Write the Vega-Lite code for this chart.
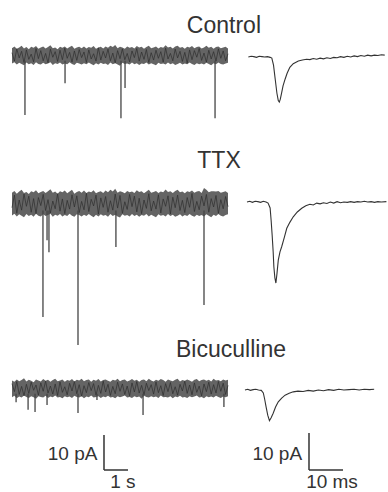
{
"$schema": "https://vega.github.io/schema/vega-lite/v6.json",
"padding": 0,
"background": "white",
"spacing": 0,
"bounds": "flush",
"columns": 2,
"config": {"view": {"stroke": null, "fill": null}, "axis": {"disable": true}, "text": {"font": "Liberation Sans"}},
"resolve": {"scale": {"x": "independent", "y": "independent"}},
"datasets": {
"noise": [
{"c":"Control","t":0.0,"hi":2.1,"lo":-2.3,"v":0.8},{"c":"Control","t":0.1,"hi":2.6,"lo":-1.9,"v":-1.6},{"c":"Control","t":0.2,"hi":1.9,"lo":-2.6,"v":1.9},{"c":"Control","t":0.3,"hi":2.3,"lo":-2.1,"v":-0.7},{"c":"Control","t":0.4,"hi":2.8,"lo":-2.4,"v":1.2},{"c":"Control","t":0.5,"hi":2.0,"lo":-2.8,"v":-2.0},{"c":"Control","t":0.6,"hi":2.4,"lo":-2.0,"v":1.6},{"c":"Control","t":0.7,"hi":1.8,"lo":-2.5,"v":-1.1},{"c":"Control","t":0.8,"hi":2.5,"lo":-2.2,"v":0.4},{"c":"Control","t":0.9,"hi":2.2,"lo":-2.7,"v":-1.8},
{"c":"Control","t":1.0,"hi":2.7,"lo":-1.9,"v":2.0},{"c":"Control","t":1.1,"hi":1.9,"lo":-2.4,"v":-0.9},{"c":"Control","t":1.2,"hi":2.3,"lo":-2.6,"v":1.4},{"c":"Control","t":1.3,"hi":2.6,"lo":-2.1,"v":-1.5},{"c":"Control","t":1.4,"hi":2.0,"lo":-2.5,"v":0.6},{"c":"Control","t":1.5,"hi":2.4,"lo":-2.3,"v":-2.1},{"c":"Control","t":1.6,"hi":2.9,"lo":-1.9,"v":1.8},{"c":"Control","t":1.7,"hi":2.1,"lo":-2.7,"v":-0.5},{"c":"Control","t":1.8,"hi":2.3,"lo":-2.2,"v":1.1},{"c":"Control","t":1.9,"hi":1.8,"lo":-2.4,"v":-1.7},
{"c":"Control","t":2.0,"hi":2.5,"lo":-2.0,"v":1.5},{"c":"Control","t":2.1,"hi":2.2,"lo":-2.6,"v":-1.2},{"c":"Control","t":2.2,"hi":2.6,"lo":-2.3,"v":2.1},{"c":"Control","t":2.3,"hi":2.0,"lo":-2.5,"v":-0.8},{"c":"Control","t":2.4,"hi":2.4,"lo":-1.9,"v":0.9},{"c":"Control","t":2.5,"hi":2.8,"lo":-2.4,"v":-1.9},{"c":"Control","t":2.6,"hi":1.9,"lo":-2.7,"v":1.3},{"c":"Control","t":2.7,"hi":2.3,"lo":-2.1,"v":-1.4},{"c":"Control","t":2.8,"hi":2.5,"lo":-2.3,"v":1.7},{"c":"Control","t":2.9,"hi":2.1,"lo":-2.6,"v":-0.6},
{"c":"Control","t":3.0,"hi":2.6,"lo":-2.2,"v":1.0},{"c":"Control","t":3.1,"hi":2.0,"lo":-2.5,"v":-2.0},{"c":"Control","t":3.2,"hi":2.4,"lo":-2.0,"v":1.6},{"c":"Control","t":3.3,"hi":2.2,"lo":-2.4,"v":-1.0},{"c":"Control","t":3.4,"hi":2.7,"lo":-2.8,"v":0.5},{"c":"Control","t":3.5,"hi":1.9,"lo":-2.2,"v":-1.6},{"c":"Control","t":3.6,"hi":2.3,"lo":-2.6,"v":2.2},{"c":"Control","t":3.7,"hi":2.5,"lo":-2.1,"v":-1.3},{"c":"Control","t":3.8,"hi":2.0,"lo":-2.4,"v":1.2},{"c":"Control","t":3.9,"hi":2.6,"lo":-2.3,"v":-0.7},
{"c":"Control","t":4.0,"hi":2.2,"lo":-2.7,"v":1.8},{"c":"Control","t":4.1,"hi":2.8,"lo":-2.0,"v":-1.5},{"c":"Control","t":4.2,"hi":2.4,"lo":-2.5,"v":0.7},{"c":"Control","t":4.3,"hi":3.0,"lo":-2.2,"v":-2.1},{"c":"Control","t":4.4,"hi":2.1,"lo":-2.6,"v":1.4},{"c":"Control","t":4.5,"hi":2.5,"lo":-2.9,"v":-0.9},{"c":"Control","t":4.6,"hi":2.3,"lo":-2.1,"v":1.9},{"c":"Control","t":4.7,"hi":1.9,"lo":-2.4,"v":-1.2},{"c":"Control","t":4.8,"hi":2.6,"lo":-2.3,"v":0.6},{"c":"Control","t":4.9,"hi":2.2,"lo":-2.6,"v":-1.8},
{"c":"Control","t":5.0,"hi":2.4,"lo":-2.0,"v":1.3},{"c":"Control","t":5.1,"hi":2.0,"lo":-2.5,"v":-0.6},{"c":"Control","t":5.2,"hi":2.7,"lo":-2.2,"v":2.0},{"c":"Control","t":5.3,"hi":2.3,"lo":-2.7,"v":-1.6},{"c":"Control","t":5.4,"hi":2.5,"lo":-2.3,"v":1.0},{"c":"Control","t":5.5,"hi":1.9,"lo":-2.4,"v":-1.1},{"c":"Control","t":5.6,"hi":2.4,"lo":-2.0,"v":1.7},{"c":"Control","t":5.7,"hi":2.8,"lo":-2.6,"v":-2.0},{"c":"Control","t":5.8,"hi":2.1,"lo":-2.2,"v":0.8},{"c":"Control","t":5.9,"hi":2.3,"lo":-2.5,"v":-1.3},
{"c":"Control","t":6.0,"hi":2.6,"lo":-2.8,"v":1.5},{"c":"Control","t":6.1,"hi":2.0,"lo":-2.1,"v":-0.8},{"c":"Control","t":6.2,"hi":2.4,"lo":-2.4,"v":1.1},{"c":"Control","t":6.3,"hi":2.2,"lo":-2.3,"v":-1.9},{"c":"Control","t":6.4,"hi":2.9,"lo":-2.6,"v":2.1},{"c":"Control","t":6.5,"hi":2.3,"lo":-2.0,"v":-1.0},{"c":"Control","t":6.6,"hi":2.5,"lo":-2.5,"v":0.6},{"c":"Control","t":6.7,"hi":2.0,"lo":-2.2,"v":-1.5},{"c":"Control","t":6.8,"hi":2.6,"lo":-2.7,"v":1.8},{"c":"Control","t":6.9,"hi":2.8,"lo":-2.4,"v":-0.7},
{"c":"Control","t":7.0,"hi":2.2,"lo":-2.1,"v":1.2},{"c":"Control","t":7.1,"hi":2.4,"lo":-2.6,"v":-1.7},{"c":"Control","t":7.2,"hi":1.9,"lo":-2.3,"v":0.9},{"c":"Control","t":7.3,"hi":2.5,"lo":-2.5,"v":-2.2},{"c":"Control","t":7.4,"hi":2.3,"lo":-2.0,"v":1.6},{"c":"Control","t":7.5,"hi":2.7,"lo":-2.4,"v":-1.2},{"c":"Control","t":7.6,"hi":2.1,"lo":-2.7,"v":1.4},{"c":"Control","t":7.7,"hi":2.4,"lo":-2.2,"v":-0.5},{"c":"Control","t":7.8,"hi":2.6,"lo":-2.5,"v":2.0},{"c":"Control","t":7.9,"hi":2.0,"lo":-2.3,"v":-1.4},
{"c":"Control","t":8.0,"hi":2.3,"lo":-2.6,"v":0.7},{"c":"Control","t":8.1,"hi":2.8,"lo":-2.1,"v":-1.9},{"c":"Control","t":8.2,"hi":2.2,"lo":-2.4,"v":1.5},{"c":"Control","t":8.3,"hi":2.5,"lo":-2.8,"v":-1.0},{"c":"Control","t":8.4,"hi":1.9,"lo":-2.2,"v":1.1},{"c":"Control","t":8.5,"hi":2.4,"lo":-2.5,"v":-1.6},{"c":"Control","t":8.6,"hi":2.6,"lo":-2.0,"v":1.9},{"c":"Control","t":8.7,"hi":2.1,"lo":-2.4,"v":-0.8},{"c":"Control","t":8.8,"hi":2.3,"lo":-2.6,"v":1.3},{"c":"Control","t":8.9,"hi":2.5,"lo":-2.3,"v":-1.5},{"c":"Control","t":9.0,"hi":2.0,"lo":-2.1,"v":0.5},

{"c":"TTX","t":0.0,"hi":3.1,"lo":-3.4,"v":-1.2},{"c":"TTX","t":0.1,"hi":3.6,"lo":-2.9,"v":2.4},{"c":"TTX","t":0.2,"hi":2.8,"lo":-3.7,"v":-2.8},{"c":"TTX","t":0.3,"hi":3.4,"lo":-3.1,"v":1.0},{"c":"TTX","t":0.4,"hi":3.9,"lo":-3.5,"v":-1.9},{"c":"TTX","t":0.5,"hi":3.0,"lo":-3.9,"v":2.7},{"c":"TTX","t":0.6,"hi":3.3,"lo":-3.0,"v":-0.8},{"c":"TTX","t":0.7,"hi":2.7,"lo":-3.6,"v":2.1},{"c":"TTX","t":0.8,"hi":3.5,"lo":-3.2,"v":-2.5},{"c":"TTX","t":0.9,"hi":3.2,"lo":-3.8,"v":1.4},
{"c":"TTX","t":1.0,"hi":3.8,"lo":-2.9,"v":-2.9},{"c":"TTX","t":1.1,"hi":2.9,"lo":-3.5,"v":1.7},{"c":"TTX","t":1.2,"hi":3.3,"lo":-3.7,"v":-0.6},{"c":"TTX","t":1.3,"hi":3.6,"lo":-3.1,"v":2.6},{"c":"TTX","t":1.4,"hi":3.0,"lo":-3.6,"v":-2.0},{"c":"TTX","t":1.5,"hi":3.5,"lo":-3.3,"v":1.1},{"c":"TTX","t":1.6,"hi":4.1,"lo":-2.9,"v":-2.7},{"c":"TTX","t":1.7,"hi":3.1,"lo":-3.8,"v":0.7},{"c":"TTX","t":1.8,"hi":3.4,"lo":-3.2,"v":-1.5},{"c":"TTX","t":1.9,"hi":2.8,"lo":-3.5,"v":2.8},
{"c":"TTX","t":2.0,"hi":3.5,"lo":-3.0,"v":-2.2},{"c":"TTX","t":2.1,"hi":3.2,"lo":-3.7,"v":1.3},{"c":"TTX","t":2.2,"hi":3.7,"lo":-3.3,"v":-2.9},{"c":"TTX","t":2.3,"hi":2.9,"lo":-3.6,"v":0.9},{"c":"TTX","t":2.4,"hi":3.4,"lo":-2.9,"v":-1.6},{"c":"TTX","t":2.5,"hi":3.9,"lo":-3.5,"v":2.5},{"c":"TTX","t":2.6,"hi":2.8,"lo":-3.8,"v":-1.0},{"c":"TTX","t":2.7,"hi":3.3,"lo":-3.1,"v":2.2},{"c":"TTX","t":2.8,"hi":3.6,"lo":-3.3,"v":-2.6},{"c":"TTX","t":2.9,"hi":3.1,"lo":-3.7,"v":0.6},
{"c":"TTX","t":3.0,"hi":3.7,"lo":-3.2,"v":-1.8},{"c":"TTX","t":3.1,"hi":3.0,"lo":-3.6,"v":2.9},{"c":"TTX","t":3.2,"hi":3.4,"lo":-3.0,"v":-2.3},{"c":"TTX","t":3.3,"hi":3.2,"lo":-3.5,"v":1.2},{"c":"TTX","t":3.4,"hi":3.8,"lo":-3.9,"v":-0.7},{"c":"TTX","t":3.5,"hi":2.9,"lo":-3.2,"v":2.4},{"c":"TTX","t":3.6,"hi":3.3,"lo":-3.7,"v":-3.0},{"c":"TTX","t":3.7,"hi":3.5,"lo":-3.1,"v":1.6},{"c":"TTX","t":3.8,"hi":3.0,"lo":-3.5,"v":-1.1},{"c":"TTX","t":3.9,"hi":3.7,"lo":-3.3,"v":2.0},
{"c":"TTX","t":4.0,"hi":3.2,"lo":-3.8,"v":-2.5},{"c":"TTX","t":4.1,"hi":3.9,"lo":-3.0,"v":0.8},{"c":"TTX","t":4.2,"hi":3.4,"lo":-3.6,"v":-1.9},{"c":"TTX","t":4.3,"hi":4.2,"lo":-3.2,"v":2.7},{"c":"TTX","t":4.4,"hi":3.1,"lo":-3.7,"v":-1.3},{"c":"TTX","t":4.5,"hi":3.5,"lo":-4.0,"v":2.3},{"c":"TTX","t":4.6,"hi":3.3,"lo":-3.1,"v":-2.8},{"c":"TTX","t":4.7,"hi":2.9,"lo":-3.5,"v":0.5},{"c":"TTX","t":4.8,"hi":3.6,"lo":-3.3,"v":-1.7},{"c":"TTX","t":4.9,"hi":3.2,"lo":-3.7,"v":2.6},
{"c":"TTX","t":5.0,"hi":3.4,"lo":-3.0,"v":-0.9},{"c":"TTX","t":5.1,"hi":3.0,"lo":-3.6,"v":2.1},{"c":"TTX","t":5.2,"hi":3.8,"lo":-3.2,"v":-2.4},{"c":"TTX","t":5.3,"hi":3.3,"lo":-3.8,"v":1.5},{"c":"TTX","t":5.4,"hi":3.5,"lo":-3.3,"v":-2.9},{"c":"TTX","t":5.5,"hi":2.9,"lo":-3.5,"v":1.0},{"c":"TTX","t":5.6,"hi":3.4,"lo":-3.0,"v":-1.4},{"c":"TTX","t":5.7,"hi":3.9,"lo":-3.7,"v":2.8},{"c":"TTX","t":5.8,"hi":3.1,"lo":-3.2,"v":-2.1},{"c":"TTX","t":5.9,"hi":3.3,"lo":-3.6,"v":0.7},
{"c":"TTX","t":6.0,"hi":3.6,"lo":-3.9,"v":-1.6},{"c":"TTX","t":6.1,"hi":3.0,"lo":-3.1,"v":2.5},{"c":"TTX","t":6.2,"hi":3.4,"lo":-3.5,"v":-2.7},{"c":"TTX","t":6.3,"hi":3.2,"lo":-3.3,"v":1.3},{"c":"TTX","t":6.4,"hi":4.0,"lo":-3.7,"v":-0.8},{"c":"TTX","t":6.5,"hi":3.3,"lo":-3.0,"v":2.2},{"c":"TTX","t":6.6,"hi":3.5,"lo":-3.6,"v":-3.0},{"c":"TTX","t":6.7,"hi":3.0,"lo":-3.2,"v":1.8},{"c":"TTX","t":6.8,"hi":3.6,"lo":-3.8,"v":-1.2},{"c":"TTX","t":6.9,"hi":3.9,"lo":-3.5,"v":2.4},
{"c":"TTX","t":7.0,"hi":3.2,"lo":-3.1,"v":-2.0},{"c":"TTX","t":7.1,"hi":3.4,"lo":-3.7,"v":0.9},{"c":"TTX","t":7.2,"hi":2.9,"lo":-3.3,"v":-2.6},{"c":"TTX","t":7.3,"hi":3.5,"lo":-3.6,"v":1.7},{"c":"TTX","t":7.4,"hi":3.3,"lo":-3.0,"v":-1.1},{"c":"TTX","t":7.5,"hi":3.7,"lo":-3.5,"v":2.9},{"c":"TTX","t":7.6,"hi":3.1,"lo":-3.8,"v":-2.3},{"c":"TTX","t":7.7,"hi":3.4,"lo":-3.2,"v":0.6},{"c":"TTX","t":7.8,"hi":3.6,"lo":-3.6,"v":-1.8},{"c":"TTX","t":7.9,"hi":3.0,"lo":-3.3,"v":2.1},
{"c":"TTX","t":8.0,"hi":4.4,"lo":-3.7,"v":-0.7},{"c":"TTX","t":8.1,"hi":3.9,"lo":-3.1,"v":2.6},{"c":"TTX","t":8.2,"hi":3.2,"lo":-3.5,"v":-2.5},{"c":"TTX","t":8.3,"hi":3.5,"lo":-3.9,"v":1.4},{"c":"TTX","t":8.4,"hi":3.5,"lo":-3.2,"v":-1.0},{"c":"TTX","t":8.5,"hi":3.4,"lo":-3.6,"v":2.3},{"c":"TTX","t":8.6,"hi":3.6,"lo":-3.0,"v":-2.8},{"c":"TTX","t":8.7,"hi":3.1,"lo":-3.5,"v":1.1},{"c":"TTX","t":8.8,"hi":3.3,"lo":-3.7,"v":-1.5},{"c":"TTX","t":8.9,"hi":3.5,"lo":-3.3,"v":2.0},{"c":"TTX","t":9.0,"hi":3.0,"lo":-3.1,"v":-0.9},

{"c":"Bic","t":0.0,"hi":2.3,"lo":-2.5,"v":1.4},{"c":"Bic","t":0.1,"hi":1.9,"lo":-2.1,"v":-0.9},{"c":"Bic","t":0.2,"hi":2.6,"lo":-2.8,"v":2.0},{"c":"Bic","t":0.3,"hi":2.1,"lo":-2.3,"v":-1.7},{"c":"Bic","t":0.4,"hi":2.4,"lo":-2.6,"v":0.6},{"c":"Bic","t":0.5,"hi":2.9,"lo":-2.0,"v":-2.1},{"c":"Bic","t":0.6,"hi":2.0,"lo":-2.4,"v":1.2},{"c":"Bic","t":0.7,"hi":2.5,"lo":-2.7,"v":-1.4},{"c":"Bic","t":0.8,"hi":2.2,"lo":-2.2,"v":1.8},{"c":"Bic","t":0.9,"hi":1.8,"lo":-2.5,"v":-0.5},
{"c":"Bic","t":1.0,"hi":2.6,"lo":-2.9,"v":1.0},{"c":"Bic","t":1.1,"hi":2.3,"lo":-2.2,"v":-1.9},{"c":"Bic","t":1.2,"hi":2.0,"lo":-2.4,"v":1.6},{"c":"Bic","t":1.3,"hi":2.7,"lo":-2.6,"v":-0.8},{"c":"Bic","t":1.4,"hi":2.2,"lo":-2.1,"v":2.1},{"c":"Bic","t":1.5,"hi":2.5,"lo":-2.7,"v":-1.3},{"c":"Bic","t":1.6,"hi":1.9,"lo":-2.3,"v":0.7},{"c":"Bic","t":1.7,"hi":2.4,"lo":-2.5,"v":-1.6},{"c":"Bic","t":1.8,"hi":2.8,"lo":-2.0,"v":1.3},{"c":"Bic","t":1.9,"hi":2.1,"lo":-2.6,"v":-2.0},
{"c":"Bic","t":2.0,"hi":2.3,"lo":-2.4,"v":1.9},{"c":"Bic","t":2.1,"hi":2.6,"lo":-2.8,"v":-1.1},{"c":"Bic","t":2.2,"hi":1.9,"lo":-2.2,"v":0.5},{"c":"Bic","t":2.3,"hi":2.4,"lo":-2.5,"v":-1.8},{"c":"Bic","t":2.4,"hi":2.2,"lo":-2.3,"v":1.5},{"c":"Bic","t":2.5,"hi":2.7,"lo":-2.7,"v":-0.7},{"c":"Bic","t":2.6,"hi":2.0,"lo":-2.1,"v":2.0},{"c":"Bic","t":2.7,"hi":2.5,"lo":-2.4,"v":-1.5},{"c":"Bic","t":2.8,"hi":2.3,"lo":-2.6,"v":1.1},{"c":"Bic","t":2.9,"hi":2.8,"lo":-2.2,"v":-2.2},
{"c":"Bic","t":3.0,"hi":2.1,"lo":-2.8,"v":0.8},{"c":"Bic","t":3.1,"hi":2.4,"lo":-2.3,"v":-1.2},{"c":"Bic","t":3.2,"hi":2.6,"lo":-2.5,"v":1.7},{"c":"Bic","t":3.3,"hi":1.9,"lo":-2.0,"v":-0.6},{"c":"Bic","t":3.4,"hi":2.5,"lo":-2.6,"v":1.4},{"c":"Bic","t":3.5,"hi":2.2,"lo":-2.4,"v":-1.9},{"c":"Bic","t":3.6,"hi":2.7,"lo":-2.2,"v":0.9},{"c":"Bic","t":3.7,"hi":2.0,"lo":-2.7,"v":-1.4},{"c":"Bic","t":3.8,"hi":2.4,"lo":-2.3,"v":2.1},{"c":"Bic","t":3.9,"hi":2.6,"lo":-2.5,"v":-1.0},
{"c":"Bic","t":4.0,"hi":2.2,"lo":-2.1,"v":1.2},{"c":"Bic","t":4.1,"hi":1.9,"lo":-2.6,"v":-2.0},{"c":"Bic","t":4.2,"hi":2.5,"lo":-2.4,"v":0.6},{"c":"Bic","t":4.3,"hi":2.3,"lo":-2.8,"v":-1.5},{"c":"Bic","t":4.4,"hi":2.8,"lo":-2.2,"v":1.8},{"c":"Bic","t":4.5,"hi":2.1,"lo":-2.5,"v":-0.8},{"c":"Bic","t":4.6,"hi":2.4,"lo":-2.3,"v":1.3},{"c":"Bic","t":4.7,"hi":2.6,"lo":-2.0,"v":-1.7},{"c":"Bic","t":4.8,"hi":2.0,"lo":-2.6,"v":0.7},{"c":"Bic","t":4.9,"hi":2.3,"lo":-2.4,"v":-2.1},
{"c":"Bic","t":5.0,"hi":2.7,"lo":-2.7,"v":1.6},{"c":"Bic","t":5.1,"hi":2.2,"lo":-2.2,"v":-1.0},{"c":"Bic","t":5.2,"hi":2.5,"lo":-2.5,"v":2.0},{"c":"Bic","t":5.3,"hi":1.9,"lo":-2.3,"v":-1.3},{"c":"Bic","t":5.4,"hi":2.4,"lo":-2.9,"v":0.9},{"c":"Bic","t":5.5,"hi":2.6,"lo":-2.1,"v":-1.8},{"c":"Bic","t":5.6,"hi":2.1,"lo":-2.4,"v":1.5},{"c":"Bic","t":5.7,"hi":2.8,"lo":-2.6,"v":-0.6},{"c":"Bic","t":5.8,"hi":2.3,"lo":-2.2,"v":1.1},{"c":"Bic","t":5.9,"hi":2.0,"lo":-2.5,"v":-1.6},
{"c":"Bic","t":6.0,"hi":2.5,"lo":-2.3,"v":1.9},{"c":"Bic","t":6.1,"hi":2.2,"lo":-2.7,"v":-1.2},{"c":"Bic","t":6.2,"hi":2.7,"lo":-2.0,"v":0.8},{"c":"Bic","t":6.3,"hi":2.4,"lo":-2.5,"v":-2.0},{"c":"Bic","t":6.4,"hi":1.9,"lo":-2.4,"v":1.4},{"c":"Bic","t":6.5,"hi":2.6,"lo":-2.6,"v":-0.9},{"c":"Bic","t":6.6,"hi":2.3,"lo":-2.2,"v":1.7},{"c":"Bic","t":6.7,"hi":2.1,"lo":-2.8,"v":-1.5},{"c":"Bic","t":6.8,"hi":2.5,"lo":-2.3,"v":0.5},{"c":"Bic","t":6.9,"hi":2.8,"lo":-2.5,"v":-1.9},
{"c":"Bic","t":7.0,"hi":2.0,"lo":-2.1,"v":1.2},{"c":"Bic","t":7.1,"hi":2.4,"lo":-2.6,"v":-0.7},{"c":"Bic","t":7.2,"hi":2.2,"lo":-2.4,"v":2.1},{"c":"Bic","t":7.3,"hi":2.6,"lo":-2.7,"v":-1.4},{"c":"Bic","t":7.4,"hi":2.3,"lo":-2.2,"v":1.0},{"c":"Bic","t":7.5,"hi":1.9,"lo":-2.5,"v":-1.8},{"c":"Bic","t":7.6,"hi":2.5,"lo":-2.3,"v":1.6},{"c":"Bic","t":7.7,"hi":2.7,"lo":-2.0,"v":-1.1},{"c":"Bic","t":7.8,"hi":2.1,"lo":-2.6,"v":0.7},{"c":"Bic","t":7.9,"hi":2.4,"lo":-2.4,"v":-2.1},
{"c":"Bic","t":8.0,"hi":2.6,"lo":-2.8,"v":1.3},{"c":"Bic","t":8.1,"hi":2.2,"lo":-2.2,"v":-0.9},{"c":"Bic","t":8.2,"hi":2.5,"lo":-2.5,"v":1.8},{"c":"Bic","t":8.3,"hi":2.0,"lo":-2.3,"v":-1.6},{"c":"Bic","t":8.4,"hi":2.8,"lo":-2.6,"v":1.1},{"c":"Bic","t":8.5,"hi":2.3,"lo":-2.1,"v":-1.3},{"c":"Bic","t":8.6,"hi":2.4,"lo":-2.4,"v":2.0},{"c":"Bic","t":8.7,"hi":2.1,"lo":-2.7,"v":-0.8},{"c":"Bic","t":8.8,"hi":2.6,"lo":-2.3,"v":1.5},{"c":"Bic","t":8.9,"hi":2.3,"lo":-2.5,"v":-1.7},{"c":"Bic","t":9.0,"hi":2.5,"lo":-2.2,"v":0.9}
],
"spikes": [
{"c":"Control","t":0.54,"amp":-17.0},{"c":"Control","t":2.21,"amp":-7.9},{"c":"Control","t":4.54,"amp":-17.9},{"c":"Control","t":4.71,"amp":-9.3},{"c":"Control","t":8.46,"amp":-17.9},
{"c":"TTX","t":1.29,"amp":-32.4},{"c":"TTX","t":1.46,"amp":-10.5},{"c":"TTX","t":1.54,"amp":-13.9},{"c":"TTX","t":2.75,"amp":-40.4},{"c":"TTX","t":4.33,"amp":-12.4},{"c":"TTX","t":8.0,"amp":-29.0},
{"c":"Bic","t":0.17,"amp":-3.9},{"c":"Bic","t":0.67,"amp":-6.1},{"c":"Bic","t":0.96,"amp":-6.7},{"c":"Bic","t":1.46,"amp":-4.7},{"c":"Bic","t":2.75,"amp":-7.0},{"c":"Bic","t":3.54,"amp":-3.3},{"c":"Bic","t":5.46,"amp":-7.6},{"c":"Bic","t":8.83,"amp":-5.3}
],
"waves": [
{"c":"Control","t":0.4,"i":0},{"c":"Control","t":1.2,"i":0.2},{"c":"Control","t":2,"i":0.1},{"c":"Control","t":2.8,"i":-0.1},{"c":"Control","t":3.6,"i":0.2},{"c":"Control","t":4.4,"i":0.1},{"c":"Control","t":5.2,"i":0},{"c":"Control","t":6,"i":0.1},{"c":"Control","t":6.8,"i":-0.1},{"c":"Control","t":7.3,"i":-0.3},{"c":"Control","t":7.8,"i":-2.2},{"c":"Control","t":8.3,"i":-6},{"c":"Control","t":8.8,"i":-9.8},{"c":"Control","t":9.2,"i":-11.8},{"c":"Control","t":9.5,"i":-12.2},{"c":"Control","t":9.8,"i":-11.4},{"c":"Control","t":10.2,"i":-9.6},{"c":"Control","t":10.6,"i":-7.8},{"c":"Control","t":11.2,"i":-6.0},{"c":"Control","t":11.8,"i":-4.4},{"c":"Control","t":12.6,"i":-2.8},{"c":"Control","t":13.6,"i":-1.8},{"c":"Control","t":15.1,"i":-1.1},{"c":"Control","t":16.3,"i":-0.8},{"c":"Control","t":17.5,"i":-0.6},{"c":"Control","t":18.5,"i":-0.7},{"c":"Control","t":19.5,"i":-0.4},{"c":"Control","t":20.5,"i":-0.6},{"c":"Control","t":21.5,"i":-0.3},{"c":"Control","t":22.5,"i":-0.5},{"c":"Control","t":23.5,"i":-0.2},{"c":"Control","t":24.5,"i":-0.4},{"c":"Control","t":25.5,"i":-0.1},{"c":"Control","t":26.5,"i":-0.2},{"c":"Control","t":27.5,"i":0.1},{"c":"Control","t":28.5,"i":-0.1},{"c":"Control","t":29.5,"i":0.2},{"c":"Control","t":30.5,"i":0.0},{"c":"Control","t":31.5,"i":0.3},{"c":"Control","t":32.5,"i":0.1},{"c":"Control","t":33.5,"i":0.4},{"c":"Control","t":34.5,"i":0.2},{"c":"Control","t":35.5,"i":0.5},{"c":"Control","t":36.5,"i":0.3},{"c":"Control","t":37.5,"i":0.5},{"c":"Control","t":38.5,"i":0.4},{"c":"Control","t":39.5,"i":0.6},{"c":"Control","t":40.5,"i":0.5},
{"c":"TTX","t":0,"i":0},{"c":"TTX","t":0.8,"i":0.2},{"c":"TTX","t":1.6,"i":-0.1},{"c":"TTX","t":2.4,"i":0.2},{"c":"TTX","t":3.2,"i":0.1},{"c":"TTX","t":4,"i":-0.1},{"c":"TTX","t":4.8,"i":0.2},{"c":"TTX","t":5.6,"i":0},{"c":"TTX","t":6.2,"i":-0.3},{"c":"TTX","t":6.8,"i":-1.6},{"c":"TTX","t":7.1,"i":-5},{"c":"TTX","t":7.4,"i":-9},{"c":"TTX","t":7.7,"i":-13.5},{"c":"TTX","t":7.9,"i":-17.5},{"c":"TTX","t":8.2,"i":-20.5},{"c":"TTX","t":8.5,"i":-21.9},{"c":"TTX","t":8.8,"i":-19.5},{"c":"TTX","t":9.2,"i":-15.7},{"c":"TTX","t":9.7,"i":-13.5},{"c":"TTX","t":10.2,"i":-12.1},{"c":"TTX","t":11,"i":-9.5},{"c":"TTX","t":11.7,"i":-7.1},{"c":"TTX","t":12.6,"i":-5.5},{"c":"TTX","t":13.6,"i":-4.0},{"c":"TTX","t":14.8,"i":-2.7},{"c":"TTX","t":16.1,"i":-1.7},{"c":"TTX","t":17.3,"i":-1.0},{"c":"TTX","t":18.5,"i":-0.6},{"c":"TTX","t":19.5,"i":-0.8},{"c":"TTX","t":20.5,"i":-0.3},{"c":"TTX","t":21.5,"i":-0.5},{"c":"TTX","t":22.5,"i":-0.2},{"c":"TTX","t":23.5,"i":-0.4},{"c":"TTX","t":24.5,"i":0},{"c":"TTX","t":25.5,"i":-0.3},{"c":"TTX","t":26.5,"i":0.1},{"c":"TTX","t":27.5,"i":-0.2},{"c":"TTX","t":28.5,"i":0},{"c":"TTX","t":29.5,"i":-0.1},{"c":"TTX","t":30.5,"i":0.1},{"c":"TTX","t":31.5,"i":-0.1},{"c":"TTX","t":32.5,"i":0.1},{"c":"TTX","t":33.5,"i":0},{"c":"TTX","t":34.5,"i":0.2},{"c":"TTX","t":35.5,"i":0},{"c":"TTX","t":36.5,"i":0.1},{"c":"TTX","t":37.5,"i":-0.1},{"c":"TTX","t":38.5,"i":0.1},{"c":"TTX","t":39.5,"i":0},{"c":"TTX","t":41,"i":0.1},
{"c":"Bic","t":-0.6,"i":0},{"c":"Bic","t":0.2,"i":0.2},{"c":"Bic","t":1,"i":-0.1},{"c":"Bic","t":1.8,"i":0.1},{"c":"Bic","t":2.6,"i":0.2},{"c":"Bic","t":3.4,"i":0},{"c":"Bic","t":4.2,"i":-0.1},{"c":"Bic","t":4.8,"i":-0.8},{"c":"Bic","t":5.2,"i":-2.5},{"c":"Bic","t":5.6,"i":-4.5},{"c":"Bic","t":6.1,"i":-6.8},{"c":"Bic","t":6.6,"i":-8.3},{"c":"Bic","t":7.1,"i":-7.5},{"c":"Bic","t":7.7,"i":-6.3},{"c":"Bic","t":8.4,"i":-4.6},{"c":"Bic","t":9.2,"i":-3.2},{"c":"Bic","t":10.2,"i":-2.2},{"c":"Bic","t":11.2,"i":-1.4},{"c":"Bic","t":12.4,"i":-0.9},{"c":"Bic","t":13.6,"i":-0.5},{"c":"Bic","t":15,"i":-0.3},{"c":"Bic","t":16.5,"i":-0.4},{"c":"Bic","t":18,"i":-0.1},{"c":"Bic","t":19.5,"i":-0.3},{"c":"Bic","t":21,"i":0},{"c":"Bic","t":22.5,"i":-0.2},{"c":"Bic","t":24,"i":0.1},{"c":"Bic","t":25.5,"i":-0.1},{"c":"Bic","t":27,"i":0.2},{"c":"Bic","t":28.5,"i":0},{"c":"Bic","t":30,"i":0.1},{"c":"Bic","t":31.5,"i":0.2},{"c":"Bic","t":33,"i":0},{"c":"Bic","t":34.5,"i":0.2},{"c":"Bic","t":36,"i":0.1},{"c":"Bic","t":37.4,"i":0.2}
]
},
"concat": [
 {"width": 236, "height": 130, "layer": [
  {"data": {"name": "noise"}, "transform": [{"filter": "datum.c === 'Control'"}], "mark": {"type": "area", "color": "#5c5c5c", "opacity": 0.95},
   "encoding": {"x": {"field": "t", "type": "quantitative", "scale": {"domain": [-0.5, 9.3333], "nice": false, "zero": false}}, "y": {"field": "hi", "type": "quantitative", "scale": {"domain": [-21.286, 15.857], "nice": false, "zero": false}}, "y2": {"field": "lo"}}},
  {"data": {"name": "noise"}, "transform": [{"filter": "datum.c === 'Control'"}], "mark": {"type": "line", "color": "#2e2e2e", "strokeWidth": 0.7},
   "encoding": {"x": {"field": "t", "type": "quantitative"}, "y": {"field": "v", "type": "quantitative"}}},
  {"data": {"name": "spikes"}, "transform": [{"filter": "datum.c === 'Control'"}], "mark": {"type": "rule", "color": "#444444", "strokeWidth": 1.3},
   "encoding": {"x": {"field": "t", "type": "quantitative"}, "y": {"field": "amp", "type": "quantitative"}, "y2": {"datum": -1.5}}},
  {"data": {"values": [{}]}, "mark": {"type": "text", "text": "Control", "fontSize": 23, "color": "#333333", "align": "center", "baseline": "alphabetic"},
   "encoding": {"x": {"datum": 8.83, "type": "quantitative"}, "y": {"datum": 6.34, "type": "quantitative"}}}
 ]},
 {"width": 152, "height": 130, "layer": [
  {"data": {"name": "waves"}, "transform": [{"filter": "datum.c === 'Control'"}], "mark": {"type": "line", "color": "#333333", "strokeWidth": 1.1},
   "encoding": {"x": {"field": "t", "type": "quantitative", "scale": {"domain": [-3.2353, 41.4706], "nice": false, "zero": false}}, "y": {"field": "i", "type": "quantitative", "scale": {"domain": [-19.73, 15.405], "nice": false, "zero": false}}}}
 ]},
 {"width": 236, "height": 200, "layer": [
  {"data": {"name": "noise"}, "transform": [{"filter": "datum.c === 'TTX'"}], "mark": {"type": "area", "color": "#5c5c5c", "opacity": 0.95},
   "encoding": {"x": {"field": "t", "type": "quantitative", "scale": {"domain": [-0.5, 9.3333], "nice": false, "zero": false}}, "y": {"field": "hi", "type": "quantitative", "scale": {"domain": [-36.143, 21.0], "nice": false, "zero": false}}, "y2": {"field": "lo"}}},
  {"data": {"name": "noise"}, "transform": [{"filter": "datum.c === 'TTX'"}], "mark": {"type": "line", "color": "#2e2e2e", "strokeWidth": 0.7},
   "encoding": {"x": {"field": "t", "type": "quantitative"}, "y": {"field": "v", "type": "quantitative"}}},
  {"data": {"name": "spikes"}, "transform": [{"filter": "datum.c === 'TTX'"}], "mark": {"type": "rule", "color": "#444444", "strokeWidth": 1.3},
   "encoding": {"x": {"field": "t", "type": "quantitative"}, "y": {"field": "amp", "type": "quantitative"}, "y2": {"datum": -2}}},
  {"data": {"values": [{}]}, "mark": {"type": "text", "text": "TTX", "fontSize": 23, "color": "#333333", "align": "center", "baseline": "alphabetic"},
   "encoding": {"x": {"datum": 8.625, "type": "quantitative"}, "y": {"datum": 10.23, "type": "quantitative"}}}
 ]},
 {"width": 152, "height": 200, "layer": [
  {"data": {"name": "waves"}, "transform": [{"filter": "datum.c === 'TTX'"}], "mark": {"type": "line", "color": "#333333", "strokeWidth": 1.1},
   "encoding": {"x": {"field": "t", "type": "quantitative", "scale": {"domain": [-3.2353, 41.4706], "nice": false, "zero": false}}, "y": {"field": "i", "type": "quantitative", "scale": {"domain": [-34.595, 19.459], "nice": false, "zero": false}}}}
 ]},
 {"width": 236, "height": 95, "layer": [
  {"data": {"name": "noise"}, "transform": [{"filter": "datum.c === 'Bic'"}], "mark": {"type": "area", "color": "#5c5c5c", "opacity": 0.95},
   "encoding": {"x": {"field": "t", "type": "quantitative", "scale": {"domain": [-0.5, 9.3333], "nice": false, "zero": false}}, "y": {"field": "hi", "type": "quantitative", "scale": {"domain": [-10.429, 16.714], "nice": false, "zero": false}}, "y2": {"field": "lo"}}},
  {"data": {"name": "noise"}, "transform": [{"filter": "datum.c === 'Bic'"}], "mark": {"type": "line", "color": "#2e2e2e", "strokeWidth": 0.7},
   "encoding": {"x": {"field": "t", "type": "quantitative"}, "y": {"field": "v", "type": "quantitative"}}},
  {"data": {"name": "spikes"}, "transform": [{"filter": "datum.c === 'Bic'"}], "mark": {"type": "rule", "color": "#444444", "strokeWidth": 1.3},
   "encoding": {"x": {"field": "t", "type": "quantitative"}, "y": {"field": "amp", "type": "quantitative"}, "y2": {"datum": -1.5}}},
  {"data": {"values": [{}]}, "mark": {"type": "text", "text": "Bicuculline", "fontSize": 23, "color": "#333333", "align": "center", "baseline": "alphabetic"},
   "encoding": {"x": {"datum": 9.125, "type": "quantitative"}, "y": {"datum": 9.09, "type": "quantitative"}}}
 ]},
 {"width": 152, "height": 95, "layer": [
  {"data": {"name": "waves"}, "transform": [{"filter": "datum.c === 'Bic'"}], "mark": {"type": "line", "color": "#333333", "strokeWidth": 1.1},
   "encoding": {"x": {"field": "t", "type": "quantitative", "scale": {"domain": [-3.2353, 41.4706], "nice": false, "zero": false}}, "y": {"field": "i", "type": "quantitative", "scale": {"domain": [-9.459, 16.216], "nice": false, "zero": false}}}}
 ]},
 {"width": 236, "height": 67, "data": {"values": [{}]}, "layer": [
  {"mark": {"type": "rule", "color": "#333333", "strokeWidth": 1.5},
   "encoding": {"x": {"datum": 3.833, "type": "quantitative", "scale": {"domain": [-0.5, 9.3333], "nice": false, "zero": false}}, "y": {"datum": 0, "type": "quantitative", "scale": {"domain": [-6.286, 12.857], "nice": false, "zero": false}}, "y2": {"datum": 10}}},
  {"mark": {"type": "rule", "color": "#333333", "strokeWidth": 1.5},
   "encoding": {"x": {"datum": 3.833, "type": "quantitative"}, "x2": {"datum": 4.833}, "y": {"datum": 0, "type": "quantitative"}}},
  {"mark": {"type": "text", "text": "10 pA", "fontSize": 19, "color": "#333333", "align": "right", "baseline": "middle"},
   "encoding": {"x": {"datum": 3.56, "type": "quantitative"}, "y": {"datum": 4.57, "type": "quantitative"}}},
  {"mark": {"type": "text", "text": "1 s", "fontSize": 19, "color": "#333333", "align": "center", "baseline": "alphabetic"},
   "encoding": {"x": {"datum": 4.62, "type": "quantitative"}, "y": {"datum": -5.14, "type": "quantitative"}}}
 ]},
 {"width": 152, "height": 67, "data": {"values": [{}]}, "layer": [
  {"mark": {"type": "rule", "color": "#333333", "strokeWidth": 1.5},
   "encoding": {"x": {"datum": 18.235, "type": "quantitative", "scale": {"domain": [-3.2353, 41.4706], "nice": false, "zero": false}}, "y": {"datum": 0, "type": "quantitative", "scale": {"domain": [-5.946, 12.162], "nice": false, "zero": false}}, "y2": {"datum": 10}}},
  {"mark": {"type": "rule", "color": "#333333", "strokeWidth": 1.5},
   "encoding": {"x": {"datum": 18.235, "type": "quantitative"}, "x2": {"datum": 28.235}, "y": {"datum": 0, "type": "quantitative"}}},
  {"mark": {"type": "text", "text": "10 pA", "fontSize": 19, "color": "#333333", "align": "right", "baseline": "middle"},
   "encoding": {"x": {"datum": 16.2, "type": "quantitative"}, "y": {"datum": 4.32, "type": "quantitative"}}},
  {"mark": {"type": "text", "text": "10 ms", "fontSize": 19, "color": "#333333", "align": "center", "baseline": "alphabetic"},
   "encoding": {"x": {"datum": 25.0, "type": "quantitative"}, "y": {"datum": -4.86, "type": "quantitative"}}}
 ]}
]
}
